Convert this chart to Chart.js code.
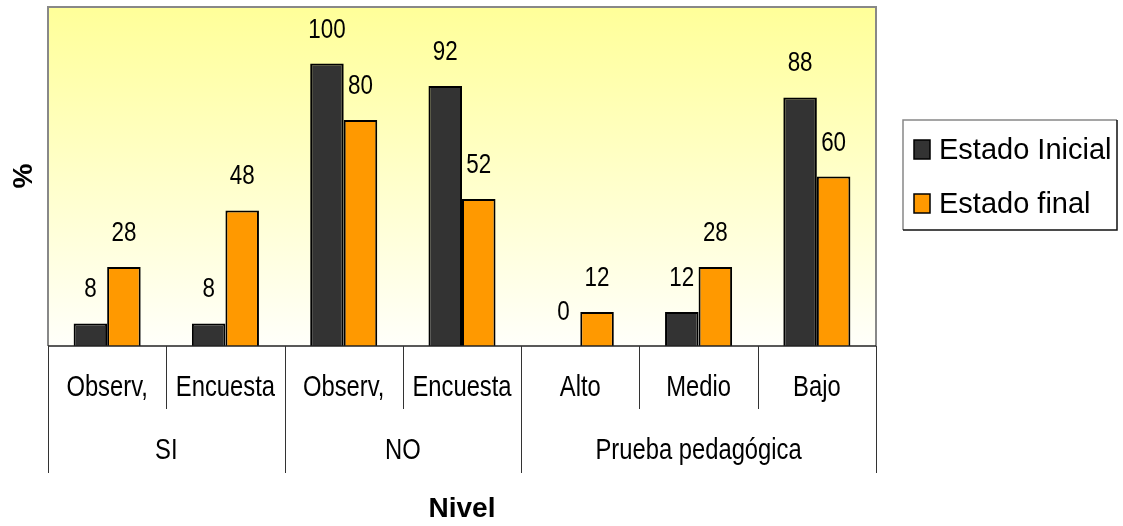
<!DOCTYPE html>
<html>
<head>
<meta charset="utf-8">
<script src="https://cdn.jsdelivr.net/npm/chart.js@4/dist/chart.umd.min.js"></script>
<style>
  html, body { margin: 0; padding: 0; background: #ffffff; }
  #wrap { width: 1123px; height: 526px; position: relative; }
</style>
</head>
<body>
<div id="wrap"><canvas id="c" width="1123" height="526"></canvas></div>
<script>
// Categories (two-level axis) and series values
const categories = ['Observ,', 'Encuesta', 'Observ,', 'Encuesta', 'Alto', 'Medio', 'Bajo'];
const groups = ['SI', 'NO', 'Prueba pedagógica'];
const groupSpans = [2, 2, 3];
const seriesNames = ['Estado Inicial', 'Estado final'];
const estadoInicial = [8, 8, 100, 92, 0, 12, 88];
const estadoFinal = [28, 48, 80, 52, 12, 28, 60];
const yMax = 120;
const xTitle = 'Nivel';
const yTitle = '%';

const COLORS = ['#333333', '#FF9900'];
const FONT = '"Liberation Sans", Arial, sans-serif';

function narrowText(ctx, text, x, y, size, sx, weight) {
  ctx.save();
  ctx.font = (weight || 'normal') + ' ' + size + 'px ' + FONT;
  ctx.translate(x, y);
  ctx.scale(sx, 1);
  ctx.textAlign = 'center';
  ctx.textBaseline = 'alphabetic';
  ctx.fillStyle = '#000000';
  ctx.fillText(text, 0, 0);
  ctx.restore();
}

const decorations = {
  id: 'decorations',
  beforeDraw(chart) {
    const { ctx, chartArea: a } = chart;
    ctx.save();
    ctx.fillStyle = '#ffffff';
    ctx.fillRect(0, 0, chart.width, chart.height);
    const g = ctx.createLinearGradient(0, a.top, 0, a.bottom);
    g.addColorStop(0, '#FFFF99');
    g.addColorStop(1, '#FFFFFA');
    ctx.fillStyle = g;
    ctx.fillRect(a.left, a.top, a.right - a.left, a.bottom - a.top);
    ctx.restore();
  },
  afterDatasetsDraw(chart) {
    const { ctx } = chart;
    // value labels above each bar
    chart.data.datasets.forEach((ds, di) => {
      const meta = chart.getDatasetMeta(di);
      meta.data.forEach((bar, i) => {
        narrowText(ctx, String(ds.data[i]), bar.x, bar.y - 26, 28, 0.8);
      });
    });
  },
  afterDraw(chart) {
    const { ctx, chartArea: a, scales } = chart;
    const xs = scales.x;
    ctx.save();
    // plot frame
    ctx.lineWidth = 2;
    ctx.strokeStyle = '#888888';
    ctx.beginPath();
    ctx.moveTo(a.left, a.bottom);
    ctx.lineTo(a.left, a.top);
    ctx.lineTo(a.right, a.top);
    ctx.lineTo(a.right, a.bottom);
    ctx.stroke();
    ctx.lineWidth = 1.5;
    ctx.strokeStyle = '#222222';
    ctx.beginPath();
    ctx.moveTo(a.left, a.bottom);
    ctx.lineTo(a.right, a.bottom);
    ctx.stroke();

    // category axis separators and labels
    const n = categories.length;
    const w = (a.right - a.left) / n;
    const row1Bottom = a.bottom + 63;
    const row2Bottom = a.bottom + 127;
    ctx.lineWidth = 1;
    ctx.strokeStyle = '#333333';
    const groupEdges = [0];
    groupSpans.reduce((s, k) => { groupEdges.push(s + k); return s + k; }, 0);
    for (let i = 0; i <= n; i++) {
      const x = Math.round(a.left + i * w) + 0.5;
      const isGroup = groupEdges.includes(i);
      ctx.beginPath();
      ctx.moveTo(x, a.bottom);
      ctx.lineTo(x, isGroup ? row2Bottom : row1Bottom);
      ctx.stroke();
    }
    categories.forEach((c, i) => {
      const x = xs.getPixelForValue(i);
      narrowText(ctx, c, x, a.bottom + 50, 29, 0.82);
    });
    groups.forEach((gname, gi) => {
      const x0 = a.left + groupEdges[gi] * w;
      const x1 = a.left + groupEdges[gi + 1] * w;
      narrowText(ctx, gname, (x0 + x1) / 2, a.bottom + 113, 29, 0.82);
    });

    // axis titles
    narrowText(ctx, xTitle, (a.left + a.right) / 2, 517, 28, 1, 'bold');
    ctx.save();
    ctx.translate(32, 176);
    ctx.rotate(-Math.PI / 2);
    narrowText(ctx, yTitle, 0, 0, 28, 1, 'bold');
    ctx.restore();

    // legend
    const lx = 903, ly = 120, lw = 214, lh = 110;
    ctx.fillStyle = '#ffffff';
    ctx.fillRect(lx, ly, lw, lh);
    ctx.lineWidth = 1.5;
    ctx.strokeStyle = '#888888';
    ctx.beginPath();
    ctx.moveTo(lx, ly + lh); ctx.lineTo(lx, ly); ctx.lineTo(lx + lw, ly);
    ctx.stroke();
    ctx.strokeStyle = '#111111';
    ctx.beginPath();
    ctx.moveTo(lx + lw, ly); ctx.lineTo(lx + lw, ly + lh); ctx.lineTo(lx, ly + lh);
    ctx.stroke();
    const rows = [159, 213];
    seriesNames.forEach((name, i) => {
      const by = rows[i];
      ctx.fillStyle = COLORS[i];
      ctx.fillRect(914, by - 19, 16, 19);
      ctx.lineWidth = 1.5;
      ctx.strokeStyle = '#000000';
      ctx.strokeRect(914, by - 19, 16, 19);
      ctx.save();
      ctx.font = '29px ' + FONT;
      ctx.fillStyle = '#000000';
      ctx.textAlign = 'left';
      ctx.textBaseline = 'alphabetic';
      ctx.fillText(name, 939, by);
      ctx.restore();
    });
    ctx.restore();
  }
};

new Chart(document.getElementById('c'), {
  type: 'bar',
  data: {
    labels: categories,
    datasets: [
      { label: seriesNames[0], data: estadoInicial, backgroundColor: COLORS[0],
        borderColor: '#000000', borderWidth: 2 },
      { label: seriesNames[1], data: estadoFinal, backgroundColor: COLORS[1],
        borderColor: '#000000', borderWidth: 2 }
    ]
  },
  options: {
    responsive: false,
    animation: false,
    devicePixelRatio: 1,
    layout: { padding: { left: 48, right: 247, top: 7, bottom: 180 } },
    datasets: { bar: { categoryPercentage: 0.567, barPercentage: 1.0 } },
    scales: {
      x: { display: false, offset: true, grid: { display: false } },
      y: { display: false, min: 0, max: yMax, grid: { display: false } }
    },
    plugins: {
      legend: { display: false },
      tooltip: { enabled: false }
    }
  },
  plugins: [decorations]
});
</script>
</body>
</html>
